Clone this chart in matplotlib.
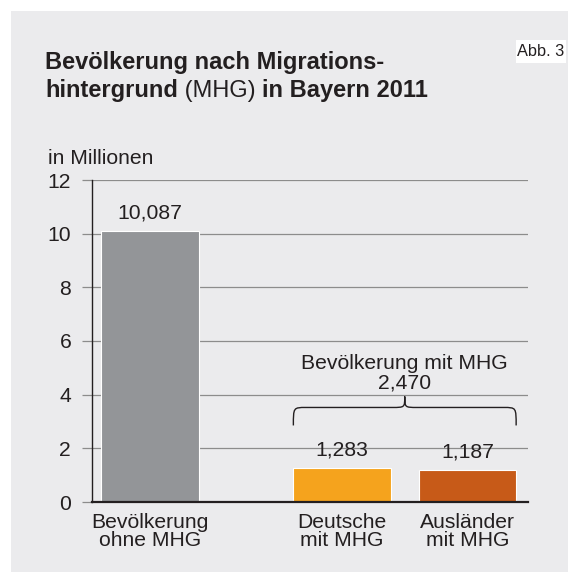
import matplotlib
matplotlib.use("Agg")
import matplotlib.pyplot as plt
from matplotlib.patches import Rectangle, PathPatch
from matplotlib.path import Path

plt.rcParams['font.family'] = ['Liberation Sans', 'DejaVu Sans']

categories = ["Bevölkerung\nohne MHG", "Deutsche\nmit MHG", "Ausländer\nmit MHG"]
values = [10.087, 1.283, 1.187]
value_labels = ["10,087", "1,283", "1,187"]
colors = ["#939598", "#f5a31d", "#c75a18"]
group_label = "Bevölkerung mit MHG\n2,470"
yticks = [0, 2, 4, 6, 8, 10, 12]

FS = 15.2
TFS = 17
W, H = 570, 572
fig = plt.figure(figsize=(W / 100, H / 100), dpi=100)
fig.patch.set_facecolor("white")
panel = Rectangle((11 / W, 0), (568 - 11) / W, (H - 11) / H, transform=fig.transFigure,
                  facecolor="#ebebed", edgecolor="none", zorder=-10)
fig.patches.append(panel)

fig.text(45 / W, 1 - 63 / H, "Bevölkerung nach Migrations-", fontsize=TFS, fontweight="bold",
         va="center", ha="left", color="#231f20")
t2 = fig.text(45 / W, 1 - 91 / H, "hintergrund", fontsize=TFS, fontweight="bold",
              va="center", ha="left", color="#231f20")
fig.canvas.draw()
r = fig.canvas.get_renderer()
bb = t2.get_window_extent(r)
t3 = fig.text(bb.x1 / W, 1 - 91 / H, " (MHG) ", fontsize=TFS, va="center", ha="left", color="#231f20")
bb3 = t3.get_window_extent(r)
fig.text(bb3.x1 / W, 1 - 91 / H, "in Bayern 2011", fontsize=TFS, fontweight="bold",
         va="center", ha="left", color="#231f20")

abb = Rectangle((516 / W, 1 - 63 / H), 50 / W, 23 / H, transform=fig.transFigure,
                facecolor="white", edgecolor="none", zorder=-5)
fig.patches.append(abb)
fig.text(541 / W, 1 - 51.5 / H, "Abb. 3", fontsize=11.8, va="center", ha="center", color="#231f20")

fig.text(48 / W, 1 - 158 / H, "in Millionen", fontsize=FS, va="center", ha="left", color="#231f20")

ax = fig.add_axes([92 / W, (H - 502) / H, (528 - 92) / W, (502 - 180) / H])
ax.set_facecolor("none")
x = [0, 1.53, 2.53]
width = 0.775
bars = ax.bar(x, values, width=width, color=colors, edgecolor="white", linewidth=0.8, zorder=3)
ax.set_xlim(-0.462, 3.012)
ax.set_ylim(0, 12)
ax.set_yticks(yticks)
ax.set_yticklabels([str(v) for v in yticks], fontsize=FS, color="#231f20")
ax.yaxis.grid(True, color="#8c8c8c", linewidth=0.9, zorder=1)
ax.set_axisbelow(True)
ax.tick_params(axis="y", length=7, width=0.9, color="#8c8c8c", pad=8)
ax.tick_params(axis="x", length=0, pad=8)
ax.set_xticks(x)
ax.set_xticklabels(categories, fontsize=FS, color="#231f20", linespacing=0.92)
for s in ["top", "right"]:
    ax.spines[s].set_visible(False)
ax.spines["left"].set_color("#231f20")
ax.spines["left"].set_linewidth(1.0)
ax.spines["bottom"].set_color("#231f20")
ax.spines["bottom"].set_linewidth(1.6)
ax.spines["left"].set_zorder(4)
ax.spines["bottom"].set_zorder(4)

for xi, v, lab in zip(x, values, value_labels):
    ax.annotate(lab, (xi, v), xytext=(0, 6), textcoords="offset points", ha="center", va="bottom",
                fontsize=FS, color="#231f20")

# brace over the MHG group
xl = x[1] - width / 2
xr = x[2] + width / 2
xm = (xl + xr) / 2
base = max(values[1:])
yb = base + 1.57
yt = base + 2.24
ytip = base + 2.65
dx = 0.1
verts = [(xl, yb), (xl, yt), (xl, yt), (xl + dx, yt),
         (xm - dx, yt),
         (xm, yt), (xm, yt), (xm, ytip),
         (xm, yt), (xm, yt), (xm + dx, yt),
         (xr - dx, yt),
         (xr, yt), (xr, yt), (xr, yb)]
codes = [Path.MOVETO, Path.CURVE4, Path.CURVE4, Path.CURVE4,
         Path.LINETO,
         Path.CURVE4, Path.CURVE4, Path.CURVE4,
         Path.CURVE4, Path.CURVE4, Path.CURVE4,
         Path.LINETO,
         Path.CURVE4, Path.CURVE4, Path.CURVE4]
ax.add_patch(PathPatch(Path(verts, codes), facecolor="none", edgecolor="#231f20", linewidth=1.0,
                       zorder=4, clip_on=False))
ax.text(xm, ytip + 0.15, group_label, ha="center", va="bottom", fontsize=FS, color="#231f20",
        linespacing=1.0)

fig.savefig("out.png", dpi=100)
